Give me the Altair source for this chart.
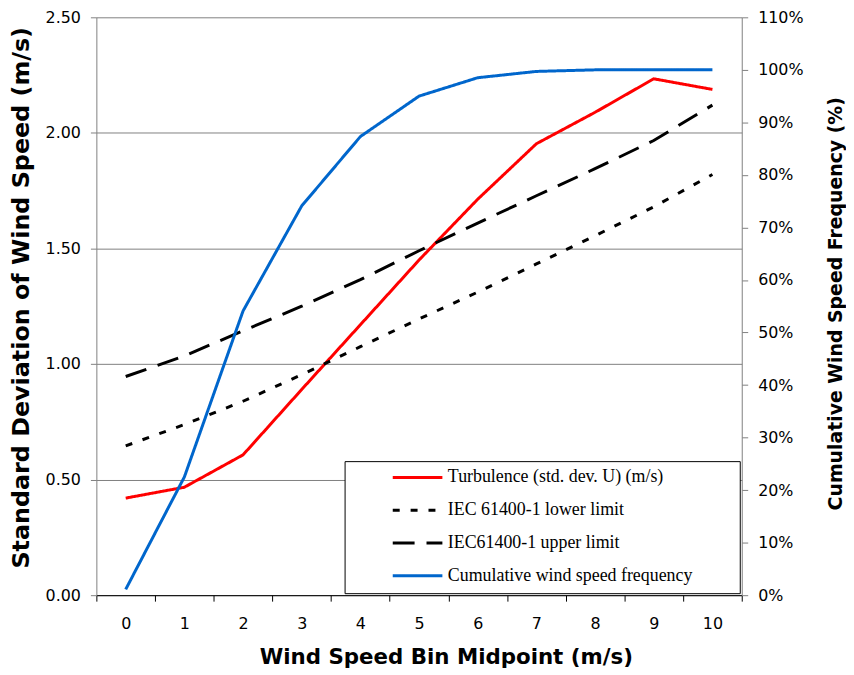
import altair as alt
import pandas as pd

bins = [0, 1, 2, 3, 4, 5, 6, 7, 8, 9, 10]
turbulence = [0.42, 0.467, 0.607, 0.89, 1.17, 1.45, 1.713, 1.953, 2.089, 2.234, 2.188]
iec_lower = [0.646, 0.738, 0.839, 0.954, 1.075, 1.195, 1.311, 1.433, 1.555, 1.68, 1.82]
iec_upper = [0.946, 1.035, 1.144, 1.25, 1.365, 1.49, 1.61, 1.728, 1.845, 1.967, 2.12]
cumulative = [0.011, 0.225, 0.541, 0.741, 0.873, 0.950, 0.985, 0.997, 1.0, 1.0, 1.0]

series_names = [
    "Turbulence (std. dev. U) (m/s)",
    "IEC 61400-1 lower limit",
    "IEC61400-1 upper limit",
    "Cumulative wind speed frequency",
]
series_colors = ["#FF0000", "#000000", "#000000", "#0066CC"]
series_dashes = [[1, 0], [7, 11], [22, 12], [1, 0]]

left_rows = []
for name, vals in zip(series_names[:3], [turbulence, iec_lower, iec_upper]):
    for b, v in zip(bins, vals):
        left_rows.append({"bin": b, "value": v, "series": name})
left_df = pd.DataFrame(left_rows)
right_df = pd.DataFrame({"bin": bins, "value": cumulative, "series": series_names[3]})

# invisible (blank braille) characters widen the legend box to the right
pad_blank = "\u2800" * 3

legend = alt.Legend(
    title=None,
    orient="none",
    legendX=250,
    legendY=447,
    fillColor="white",
    strokeColor="black",
    padding=8,
    symbolType="stroke",
    symbolSize=2500,
    symbolStrokeWidth=3,
    symbolOffset=39,
    labelOffset=4,
    clipHeight=17,
    rowPadding=14,
    labelFont="Liberation Serif",
    labelFontSize=18,
    labelColor="black",
    labelLimit=500,
    labelExpr="datum.label + '" + pad_blank + "'",
)
color_enc = alt.Color(
    "series:N",
    scale=alt.Scale(domain=series_names, range=series_colors),
    legend=legend,
)
dash_enc = alt.StrokeDash(
    "series:N",
    scale=alt.Scale(domain=series_names, range=series_dashes),
    legend=legend,
)

x_enc = alt.X(
    "bin:O",
    scale=alt.Scale(type="band", paddingInner=0, paddingOuter=0),
    axis=alt.Axis(
        title="Wind Speed Bin Midpoint (m/s)",
        labelAngle=0,
        tickBand="extent",
        domainColor="black",
        tickColor="black",
        tickSize=6,
        labelPadding=15,
        labelFont="DejaVu Sans",
        labelFontSize=16,
        labelColor="black",
        titleFont="DejaVu Sans",
        titleFontWeight="bold",
        titleFontSize=21.5,
        titleColor="black",
        titleX=352,
        titleY=63,
        titleAlign="center",
        titleBaseline="middle",
        grid=False,
    ),
)

left = alt.Chart(left_df).mark_line(strokeWidth=3).encode(
    x=x_enc,
    y=alt.Y(
        "value:Q",
        scale=alt.Scale(domain=[0, 2.5], nice=False),
        axis=alt.Axis(
            title="Standard Deviation of Wind Speed (m/s)",
            values=[0, 0.5, 1.0, 1.5, 2.0, 2.5],
            format=".2f",
            grid=True,
            gridColor="#808080",
            gridWidth=1,
            domainColor="#808080",
            tickColor="#808080",
            tickSize=6,
            labelPadding=10,
            labelFont="DejaVu Sans",
            labelFontSize=16,
            labelColor="black",
            titleFont="DejaVu Sans",
            titleFontWeight="bold",
            titleFontSize=24,
            titleColor="black",
            titleAngle=270,
            titleX=-75,
            titleY=282,
            titleAlign="center",
            titleBaseline="middle",
        ),
    ),
    color=color_enc,
    strokeDash=dash_enc,
)

right = alt.Chart(right_df).mark_line(strokeWidth=3).encode(
    x=x_enc,
    y=alt.Y(
        "value:Q",
        scale=alt.Scale(domain=[0, 1.1], nice=False),
        axis=alt.Axis(
            orient="right",
            title="Cumulative Wind Speed Frequency (%)",
            values=[0, 0.1, 0.2, 0.3, 0.4, 0.5, 0.6, 0.7, 0.8, 0.9, 1.0, 1.1],
            format=".0%",
            grid=False,
            domainColor="#808080",
            tickColor="#808080",
            tickSize=6,
            labelPadding=10,
            labelFont="DejaVu Sans",
            labelFontSize=16,
            labelColor="black",
            titleFont="DejaVu Sans",
            titleFontWeight="bold",
            titleFontSize=19,
            titleColor="black",
            titleAngle=270,
            titleX=94,
            titleY=288,
            titleAlign="center",
            titleBaseline="middle",
        ),
    ),
    color=color_enc,
    strokeDash=dash_enc,
)

chart = (
    alt.layer(left, right)
    .resolve_scale(y="independent")
    .properties(
        width=650,
        height=582,
        autosize=alt.AutoSizeParams(type="none"),
        padding={"left": 89, "top": 7, "right": 105, "bottom": 76},
        background="white",
    )
    .configure_view(strokeWidth=0)
)

chart.save("out.html", embed_options={"renderer": "svg", "actions": False})
